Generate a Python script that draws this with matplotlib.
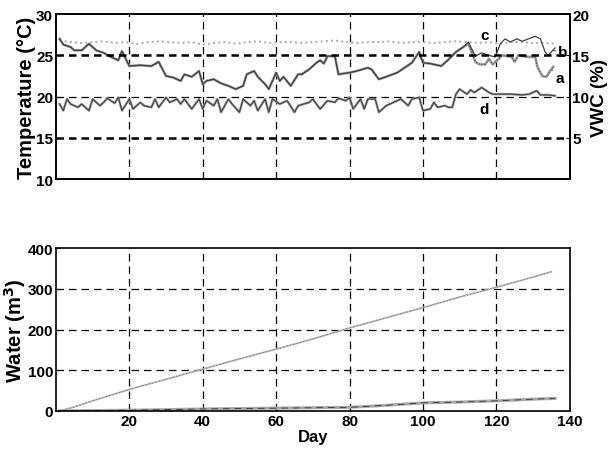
import matplotlib
matplotlib.use("Agg")
import matplotlib.pyplot as plt
from matplotlib import font_manager

# ---------------------------------------------------------------------------
# Data
# ---------------------------------------------------------------------------

# temperature series a / b overlap until ~day 112
days_early = [1, 2, 4, 5, 7, 9, 11, 13, 15, 17, 18, 20, 23, 26, 28, 30, 32, 34,
              35, 37, 39, 40, 41, 43, 45, 47, 49, 51, 52, 54, 55, 57, 58, 60,
              61, 62, 64, 66, 67, 69, 71, 72, 73, 74, 76, 77, 80, 82, 85, 86,
              88, 90, 93, 95, 97, 99, 100, 102, 105, 107, 109, 111]
temp_early = [27.0, 26.3, 26.0, 25.6, 25.6, 26.4, 25.6, 25.3, 24.8, 24.4, 25.5,
              23.7, 23.8, 23.7, 24.2, 22.5, 22.3, 21.9, 22.7, 22.4, 23.1, 21.5,
              21.9, 22.1, 21.6, 21.3, 20.9, 21.3, 22.7, 23.1, 22.4, 21.5, 20.9,
              22.9, 21.9, 22.4, 21.3, 22.7, 22.7, 23.3, 24.1, 24.4, 24.0, 24.9,
              24.9, 22.7, 22.9, 23.1, 23.5, 23.3, 22.1, 22.4, 22.9, 23.5, 24.1,
              25.4, 24.1, 24.0, 23.7, 24.5, 25.4, 26.0]

days_b_late = [112.4, 114.3, 116, 117.9, 119.7, 121.1, 122.4, 123.8, 125.6,
               127, 128.8, 130.6, 132, 133.3, 134.2, 136]
temp_b_late = [26.6, 24.9, 25.3, 25.0, 24.8, 26.4, 27.0, 26.6, 27.0, 26.7,
               27.0, 27.3, 27.0, 25.4, 25.0, 25.9]

days_a_late = [112.4, 114.3, 115.5, 117, 118, 119, 120.5, 121.6, 124.2, 125,
               126, 128.8, 130.6, 131.2, 132.5, 133.7, 134.5, 135.5]
temp_a_late = [26.4, 24.2, 23.9, 23.9, 24.6, 23.9, 24.5, 25.0, 24.8, 24.2,
               25.0, 24.8, 24.8, 23.6, 22.5, 22.4, 23.0, 23.6]

days_c = [1, 4, 7, 10, 13, 16, 19, 22, 25, 28, 31, 34, 37, 40, 43, 46, 49, 52,
          55, 58, 61, 64, 67, 70, 73, 76, 79, 82, 85, 88, 91, 94, 97, 100, 103,
          106, 109, 112, 115, 118, 121, 124, 127, 130, 133, 136]
temp_c = [26.8, 26.6, 26.5, 26.6, 26.7, 26.5, 26.6, 26.4, 26.6, 26.7, 26.6,
          26.5, 26.6, 26.3, 26.5, 26.6, 26.4, 26.6, 26.7, 26.5, 26.6, 26.6,
          26.5, 26.6, 26.7, 26.8, 26.6, 26.5, 26.6, 26.6, 26.7, 26.5, 26.6,
          26.6, 26.5, 26.6, 26.7, 26.6, 26.5, 26.6, 26.4, 26.6, 26.6, 26.5,
          26.5, 26.4]

days_d = [1, 2, 3, 4, 6, 7, 9, 10, 12, 13, 14, 16, 17, 18, 20, 21, 23, 24, 26,
          27, 28, 30, 31, 33, 34, 35, 37, 39, 40, 41, 43, 44, 45, 47, 48, 50,
          51, 53, 54, 55, 57, 58, 59, 61, 63, 65, 66, 69, 70, 72, 74, 76, 77,
          79, 80, 81, 83, 84, 85, 87, 88, 90, 92, 94, 96, 97, 99, 100, 102,
          103, 104, 106, 107, 108, 109, 110, 112, 113, 114, 116, 118, 119,
          121, 124, 127, 129, 131, 132, 134, 136]
vwc_d = [9.1, 8.3, 9.7, 9.1, 8.7, 9.1, 8.3, 9.7, 8.9, 9.3, 9.8, 9.2, 9.9, 8.3,
         9.7, 8.5, 9.3, 8.9, 8.7, 9.7, 8.7, 9.9, 9.3, 9.7, 9.1, 9.7, 8.5, 9.7,
         8.5, 9.5, 8.9, 9.7, 8.1, 9.7, 9.1, 8.1, 9.7, 8.9, 9.5, 8.3, 9.7, 8.1,
         9.7, 9.1, 9.5, 8.1, 8.9, 9.3, 9.7, 8.5, 9.5, 9.3, 9.8, 9.5, 9.9, 8.5,
         9.7, 8.5, 9.7, 9.7, 8.1, 8.9, 9.3, 9.7, 8.9, 9.7, 9.9, 8.3, 8.5, 9.3,
         8.7, 8.9, 8.7, 8.7, 10.3, 10.9, 10.3, 10.8, 10.5, 11.1, 10.5, 10.3,
         10.3, 10.3, 10.2, 10.3, 10.7, 10.2, 10.2, 10.1]

days_water = [1, 5, 10, 20, 30, 40, 50, 60, 70, 80, 90, 100, 110, 120, 128, 135]
water_total = [0, 10, 25, 53, 78, 103, 128, 152, 177, 204, 229, 254, 280, 304,
               324, 342]

days_water2 = [1, 10, 20, 28, 40, 60, 80, 90, 100, 110, 120, 130, 136]
water_small = [0, 1, 2, 3, 5, 7, 9, 14, 20, 22, 25, 29, 31]

temp_ticks = [10, 15, 20, 25, 30]
vwc_ticks = [5, 10, 15, 20]
water_ticks = [0, 100, 200, 300, 400]
day_ticks = [20, 40, 60, 80, 100, 120, 140]

# ---------------------------------------------------------------------------
# Style
# ---------------------------------------------------------------------------

names = {f.name for f in font_manager.fontManager.ttflist}
tick_font = "Liberation Sans Narrow" if "Liberation Sans Narrow" in names else "Liberation Sans"
plt.rcParams["font.family"] = [tick_font, "DejaVu Sans"]
plt.rcParams["font.weight"] = "bold"
LABEL_FONT = ["Liberation Sans", "DejaVu Sans"]

GRID = dict(color="black", linestyle=(0, (6, 4)), linewidth=0.9)

fig = plt.figure(figsize=(6.08, 4.56), dpi=100)
ax1 = fig.add_axes([0.092, 0.605, 0.845, 0.362])
ax2 = ax1.twinx()
ax3 = fig.add_axes([0.092, 0.0965, 0.845, 0.357])

# ---------------------------------------------------------------------------
# Top panel: temperature + VWC
# ---------------------------------------------------------------------------
days_a = days_early + days_a_late
temp_a = temp_early + temp_a_late
days_b = days_early + days_b_late
temp_b = temp_early + temp_b_late

ax1.plot(days_c, temp_c, color="#a8a8a8", linestyle=":", linewidth=1.4)
ax1.plot(days_a, temp_a, color="#a0a0a0", linewidth=1.9)
ax1.plot(days_a, temp_a, color="#505050", linewidth=0.8, linestyle=":")
ax1.plot(days_b, temp_b, color="#404040", linewidth=0.9)
ax2.plot(days_d, vwc_d, color="#a0a0a0", linewidth=1.8)
ax2.plot(days_d, vwc_d, color="#404040", linewidth=0.8)

ax1.set_xlim(0, 140)
ax1.set_ylim(10, 30)
ax2.set_ylim(0, 20)
ax1.set_xticks(day_ticks)
ax1.set_xticklabels([])
ax1.set_yticks(temp_ticks)
ax2.set_yticks(vwc_ticks)

for x in day_ticks[:-1]:
    ax1.axvline(x, **GRID, zorder=0)
ax1.axhline(20, **GRID, zorder=0)
for v in [5, 15]:
    ax2.axhline(v, color="black", linestyle=(0, (3, 2)), linewidth=1.8, zorder=0)

ax1.set_ylabel("Temperature (°C)", fontsize=14.5, fontweight="bold",
               family=LABEL_FONT, labelpad=0)
ax2.set_ylabel("VWC (%)", fontsize=13.5, fontweight="bold",
               family=LABEL_FONT, labelpad=1)

ax1.text(116.7, 27.45, "c", fontsize=11, ha="center", va="center")
ax1.text(116.7, 18.5, "d", fontsize=11, ha="center", va="center")
ax1.annotate("b", xy=(135.3, 25.6), xytext=(138.2, 25.45), fontsize=11,
             ha="center", va="center",
             arrowprops=dict(arrowstyle="-", color="#555555", lw=0.8,
                             shrinkA=4, shrinkB=0))
ax1.annotate("a", xy=(135.2, 23.2), xytext=(137.2, 22.3), fontsize=11,
             ha="center", va="center",
             arrowprops=dict(arrowstyle="-", color="#555555", lw=0.8,
                             shrinkA=4, shrinkB=0))

# ---------------------------------------------------------------------------
# Bottom panel: water
# ---------------------------------------------------------------------------
ax3.plot(days_water, water_total, color="#b4b4b4", linewidth=1.3)
ax3.plot(days_water, water_total, color="#404040", linewidth=0.5,
         linestyle=(0, (1, 4)))
ax3.plot(days_water2, water_small, color="#a8a8a8", linewidth=2.2)
ax3.plot(days_water2, water_small, color="#303030", linewidth=0.6,
         linestyle=(0, (8, 6)))

ax3.set_xlim(0, 140)
ax3.set_ylim(0, 400)
ax3.set_xticks(day_ticks)
ax3.set_yticks(water_ticks)
for x in day_ticks[:-1]:
    ax3.axvline(x, **GRID, zorder=0)
for y in water_ticks[1:-1]:
    ax3.axhline(y, **GRID, zorder=0)

ax3.set_xlabel("Day", fontsize=12, fontweight="bold", labelpad=1)
ax3.set_ylabel("Water (m$^\\mathbf{3}$)", fontsize=14.5, fontweight="bold",
               family=LABEL_FONT, labelpad=0)

for ax in (ax1, ax2, ax3):
    ax.tick_params(direction="in", length=3, labelsize=11, pad=2, width=0.8)
    for s in ax.spines.values():
        s.set_linewidth(1.2)
    for lab in ax.get_xticklabels() + ax.get_yticklabels():
        lab.set_fontweight("bold")

fig.savefig("out.png", dpi=100)
